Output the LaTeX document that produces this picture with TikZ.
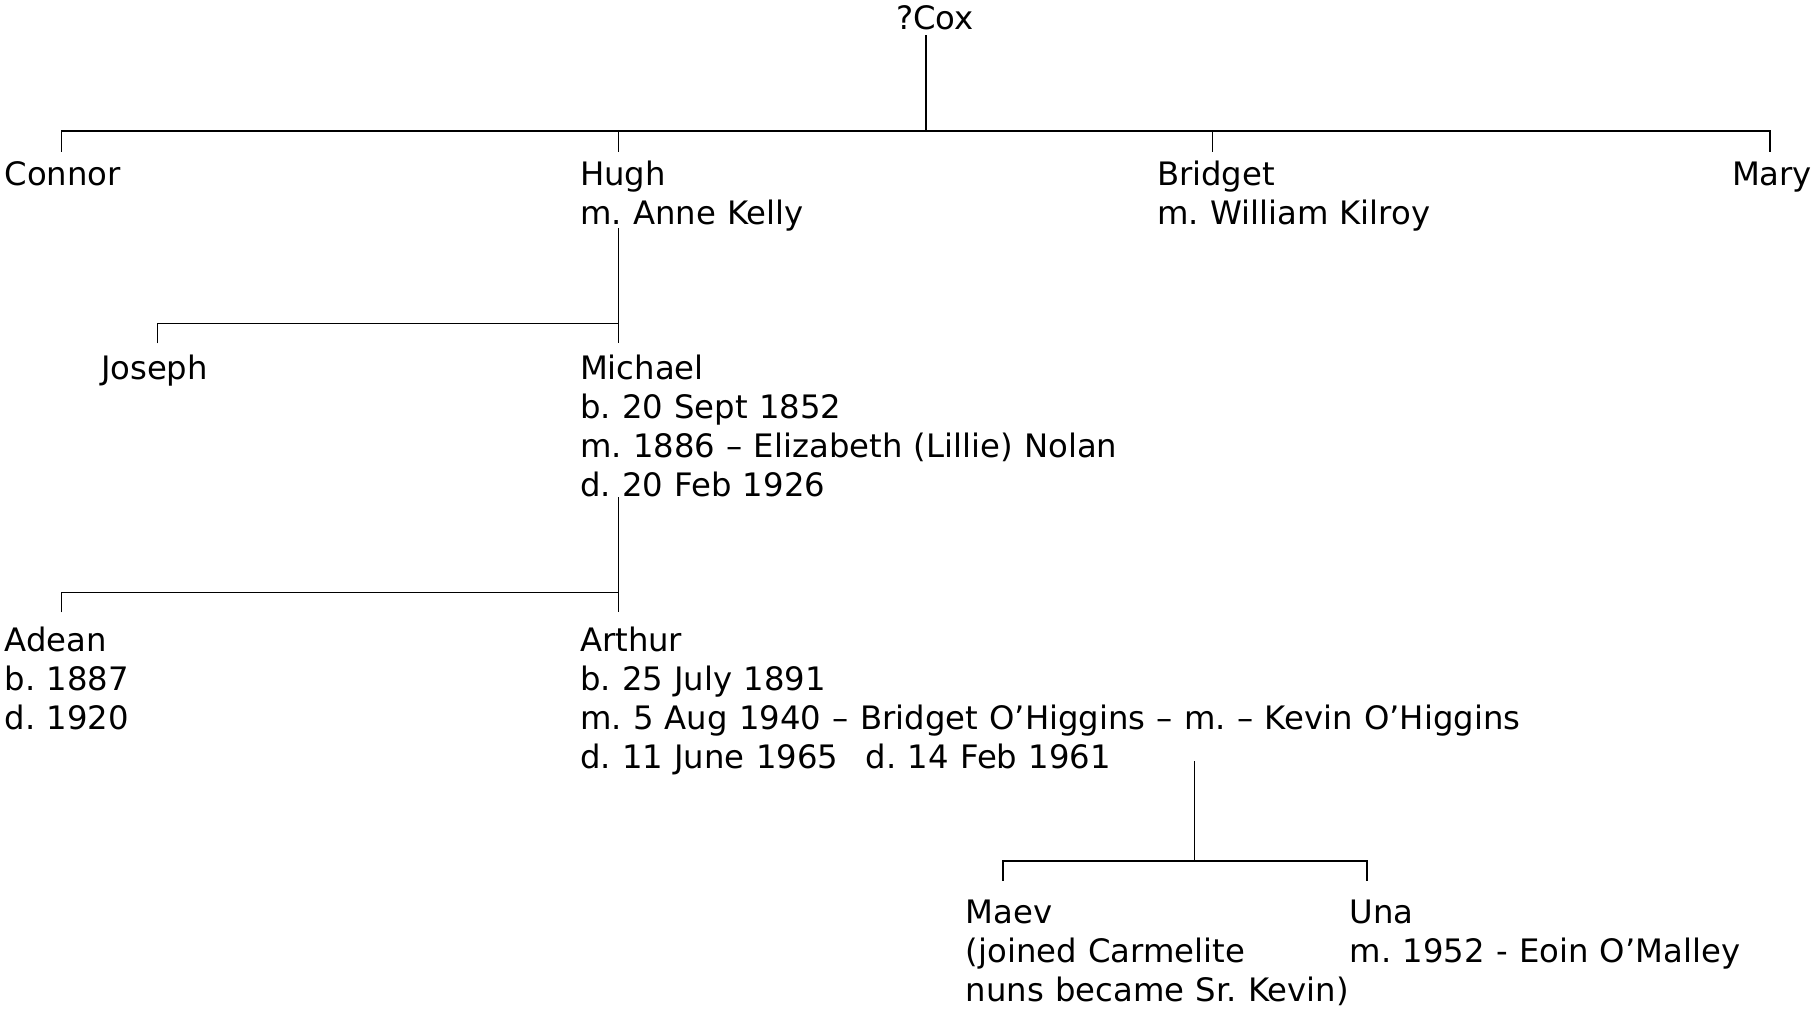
\documentclass[tikz,border=0pt]{standalone}
\usepackage{fontspec}
\setmainfont{DejaVu Sans}[WordSpace={1.1,0,0}]
\frenchspacing
\begin{document}
\begin{tikzpicture}[x=1pt,y=-1pt,
  person/.style={anchor=base west,inner sep=0pt,outer sep=0pt,align=left,
    font=\fontsize{32.3pt}{39pt}\selectfont\frenchspacing},
  tree/.style={line width=1.3pt,black}]
\useasboundingbox (0,0) rectangle (1813,1009);

% people (anchored at the baseline of their last line)
\node[person] (cox) at (896,29.3) {?Cox};
\node[person] (connor) at (4.6,185.7) {Connor};
\node[person] (hugh) at (580,224.7) {Hugh\\m. Anne Kelly};
\node[person] (bridget) at (1157,224.7) {Bridget\\m. William Kilroy};
\node[person] (mary) at (1732,185.7) {Mary};
\node[person] (joseph) at (101,379) {Joseph};
\node[person] (michael) at (580,496) {Michael\\b. 20 Sept 1852\\m. 1886 – Elizabeth (Lillie) Nolan\\d. 20 Feb 1926};
\node[person] (adean) at (4.6,729) {Adean\\b. 1887\\d. 1920};
\node[person] (arthur) at (580,768) {Arthur\\b. 25 July 1891\\m. 5 Aug 1940 – Bridget O’Higgins – m. – Kevin O’Higgins\\d. 11 June 1965\hspace{0.85em}d. 14 Feb 1961};
\node[person] (maev) at (965.8,1001.3) {Maev\\(joined Carmelite\\nuns became Sr. Kevin)};
\node[person] (una) at (1349.6,962.3) {Una\\m. 1952 - Eoin O’Malley};

% connector points
\coordinate (coxD) at (926,35);
\coordinate (coxB) at (926,131);
\coordinate (barL1) at (61.3,131);
\coordinate (barR1) at (1770,131);
\coordinate (connorT) at (61.3,151.7);
\coordinate (hughT) at (618.5,151.7);
\coordinate (hughB) at (618.5,131);
\coordinate (bridgetT) at (1212.7,151.7);
\coordinate (bridgetB) at (1212.7,131);
\coordinate (maryT) at (1770,151.7);

\coordinate (hughD) at (618.5,228);
\coordinate (hughBar) at (618.5,323.3);
\coordinate (josephB) at (157.6,323.3);
\coordinate (josephT) at (157.6,343.3);
\coordinate (michaelT) at (618.5,343.3);

\coordinate (michaelD) at (618.5,497);
\coordinate (michaelBar) at (618.5,592.7);
\coordinate (adeanB) at (61.3,592.7);
\coordinate (adeanT) at (61.3,612.3);
\coordinate (arthurT) at (618.5,612.3);

\coordinate (arthurD) at (1194.5,761);
\coordinate (arthurBar) at (1194.5,861);
\coordinate (maevB) at (1003,861);
\coordinate (maevT) at (1003,880.7);
\coordinate (unaB) at (1367,861);
\coordinate (unaT) at (1367,880.7);

% connectors
\draw[tree] (coxD) -- (coxB);
\draw[tree] (connorT) -- (barL1) -- (barR1) -- (maryT);
\draw[tree] (hughB) -- (hughT);
\draw[tree] (bridgetB) -- (bridgetT);

\draw[tree] (hughD) -- (michaelT);
\draw[tree] (josephT) -- (josephB) -- (hughBar);

\draw[tree] (michaelD) -- (arthurT);
\draw[tree] (adeanT) -- (adeanB) -- (michaelBar);

\draw[tree] (arthurD) -- (arthurBar);
\draw[tree] (maevT) -- (maevB) -- (unaB) -- (unaT);
\end{tikzpicture}
\end{document}
